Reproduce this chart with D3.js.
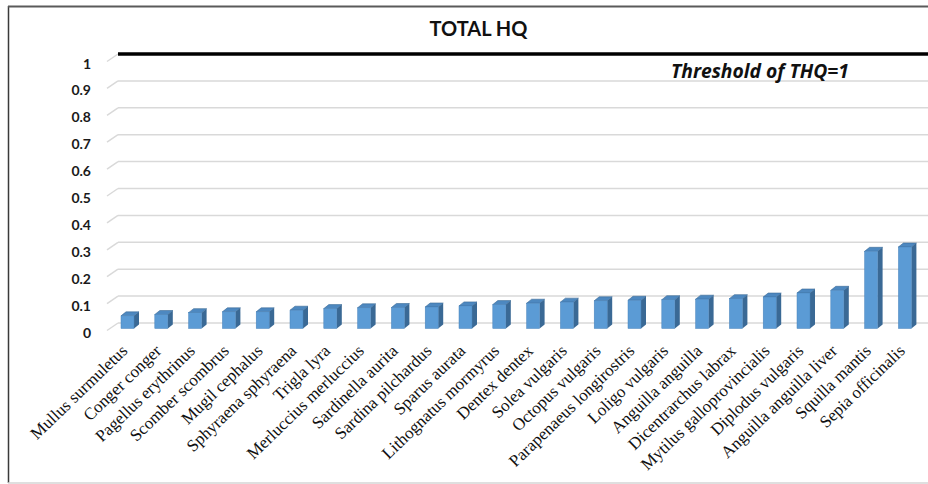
<!DOCTYPE html>
<html>
<head>
<meta charset="utf-8">
<script src="https://cdn.jsdelivr.net/npm/d3@7"></script>
<style>
  html, body { margin: 0; padding: 0; background: #fff; }
  svg { display: block; }
</style>
</head>
<body>
<svg id="chart" width="928" height="484"></svg>
<script>
// Species analysed
const categories = [
  "Mullus surmuletus", "Conger conger", "Pagellus erythrinus", "Scomber scombrus",
  "Mugil cephalus", "Sphyraena sphyraena", "Trigla lyra", "Merluccius merluccius",
  "Sardinella aurita", "Sardina pilchardus", "Sparus aurata", "Lithognatus mormyrus",
  "Dentex dentex", "Solea vulgaris", "Octopus vulgaris", "Parapenaeus longirostris",
  "Loligo vulgaris", "Anguilla anguilla", "Dicentrarchus labrax", "Mytilus galloprovincialis",
  "Diplodus vulgaris", "Anguilla anguilla liver", "Squilla mantis", "Sepia officinalis"
];
// Total hazard quotient per species
const thqValues = [
  0.047, 0.052, 0.059, 0.062,
  0.062, 0.068, 0.074, 0.077,
  0.078, 0.080, 0.084, 0.089,
  0.094, 0.098, 0.103, 0.105,
  0.107, 0.109, 0.111, 0.117,
  0.132, 0.142, 0.287, 0.303
];
const yTicks = [0, 0.1, 0.2, 0.3, 0.4, 0.5, 0.6, 0.7, 0.8, 0.9, 1];
const yTickLabels = ["0", "0.1", "0.2", "0.3", "0.4", "0.5", "0.6", "0.7", "0.8", "0.9", "1"];
const threshold = 1;
const chartTitle = "TOTAL HQ";
const thresholdLabel = "Threshold of THQ=1";

const svg = d3.select("#chart");

// Outer frame
svg.append("line").attr("x1", 8.5).attr("y1", 6).attr("x2", 8.5).attr("y2", 483)
  .attr("stroke", "#3a3a3a").attr("stroke-width", 1.5);
svg.append("line").attr("x1", 8).attr("y1", 6.5).attr("x2", 928).attr("y2", 6.5)
  .attr("stroke", "#5a5a5a").attr("stroke-width", 2);
svg.append("line").attr("x1", 8).attr("y1", 483).attr("x2", 928).attr("y2", 483)
  .attr("stroke", "#d4d4d4").attr("stroke-width", 1.5);

// Back wall scale and oblique depth offsets
const wallLeft = 118, wallRight = 928;
const depthX = 11, depthY = 7.5;      // back wall vs. front plane
const y = d3.scaleLinear().domain([0, 1]).range([323, 54]);
const x = d3.scaleBand().domain(categories).range([110.6, 921.8]).padding(0);
const barW = 13, sideX = 5, sideY = 4; // bar front width and bar depth
const frontShift = 5.5;                // bar front plane below back wall

// Gridlines on the back wall with the floor-edge diagonals
const grid = svg.append("g");
grid.selectAll("line.diag").data(yTicks).join("line")
  .attr("class", "diag")
  .attr("x1", wallLeft - depthX).attr("y1", d => y(d) + depthY)
  .attr("x2", wallLeft).attr("y2", d => y(d))
  .attr("stroke", "#d9d9d9").attr("stroke-width", 1.5);
grid.selectAll("line.h").data(yTicks).join("line")
  .attr("class", "h")
  .attr("x1", wallLeft).attr("x2", wallRight)
  .attr("y1", d => y(d)).attr("y2", d => y(d))
  .attr("stroke", "#d9d9d9").attr("stroke-width", 1.5);

// Threshold line
svg.append("line")
  .attr("x1", wallLeft).attr("x2", wallRight)
  .attr("y1", y(threshold)).attr("y2", y(threshold))
  .attr("stroke", "#000").attr("stroke-width", 3.5);

// Y axis labels
svg.append("g").selectAll("text").data(yTicks).join("text")
  .attr("x", 91).attr("y", d => y(d) + 9)
  .attr("text-anchor", "end").attr("dominant-baseline", "central")
  .attr("font-family", "Lato, 'Open Sans', sans-serif").attr("font-weight", "bold")
  .attr("font-size", 14).attr("fill", "#1a1a1a")
  .text((d, i) => yTickLabels[i]);

// 3D columns
const bars = svg.append("g").selectAll("g").data(categories).join("g");
const bx = d => x(d) + (x.step() - barW) / 2;
const base = y(0) + frontShift;
const topY = (d, i) => y(thqValues[i]) + frontShift;

// side face
bars.append("path")
  .attr("d", (d, i) => {
    const l = bx(d) + barW, t = topY(d, i);
    return `M${l},${t}L${l + sideX},${t - sideY}L${l + sideX},${base - sideY}L${l},${base}Z`;
  })
  .attr("fill", "#3a6995");
// top face
bars.append("path")
  .attr("d", (d, i) => {
    const l = bx(d), t = topY(d, i);
    return `M${l},${t}L${l + sideX},${t - sideY}L${l + barW + sideX},${t - sideY}L${l + barW},${t}Z`;
  })
  .attr("fill", "#4d88c0").attr("stroke", "#3a6995").attr("stroke-width", 0.6);
// front face
bars.append("rect")
  .attr("x", d => bx(d))
  .attr("y", (d, i) => topY(d, i))
  .attr("width", barW)
  .attr("height", (d, i) => base - topY(d, i))
  .attr("fill", "#5b9bd5").attr("stroke", "#4a84bb").attr("stroke-width", 0.5);

// Category labels
svg.append("g").selectAll("text").data(categories).join("text")
  .attr("transform", d => `translate(${x(d) + x.step() / 2 + 1},${352}) rotate(-44)`)
  .attr("text-anchor", "end")
  .attr("font-family", "'Liberation Serif', 'Times New Roman', serif")
  .attr("font-size", 17).attr("fill", "#111")
  .text(d => d);

// Title
svg.append("text")
  .attr("x", 478.5).attr("y", 36)
  .attr("text-anchor", "middle")
  .attr("font-family", "Lato, 'Open Sans', sans-serif").attr("font-weight", "bold")
  .attr("font-size", 20).attr("fill", "#111")
  .text(chartTitle);

// Threshold annotation
svg.append("text")
  .attr("x", 671).attr("y", 78)
  .attr("font-family", "'Open Sans', Lato, sans-serif").attr("font-weight", "bold")
  .attr("font-style", "italic")
  .attr("font-size", 19.3).attr("fill", "#111")
  .text(thresholdLabel);
</script>
</body>
</html>
